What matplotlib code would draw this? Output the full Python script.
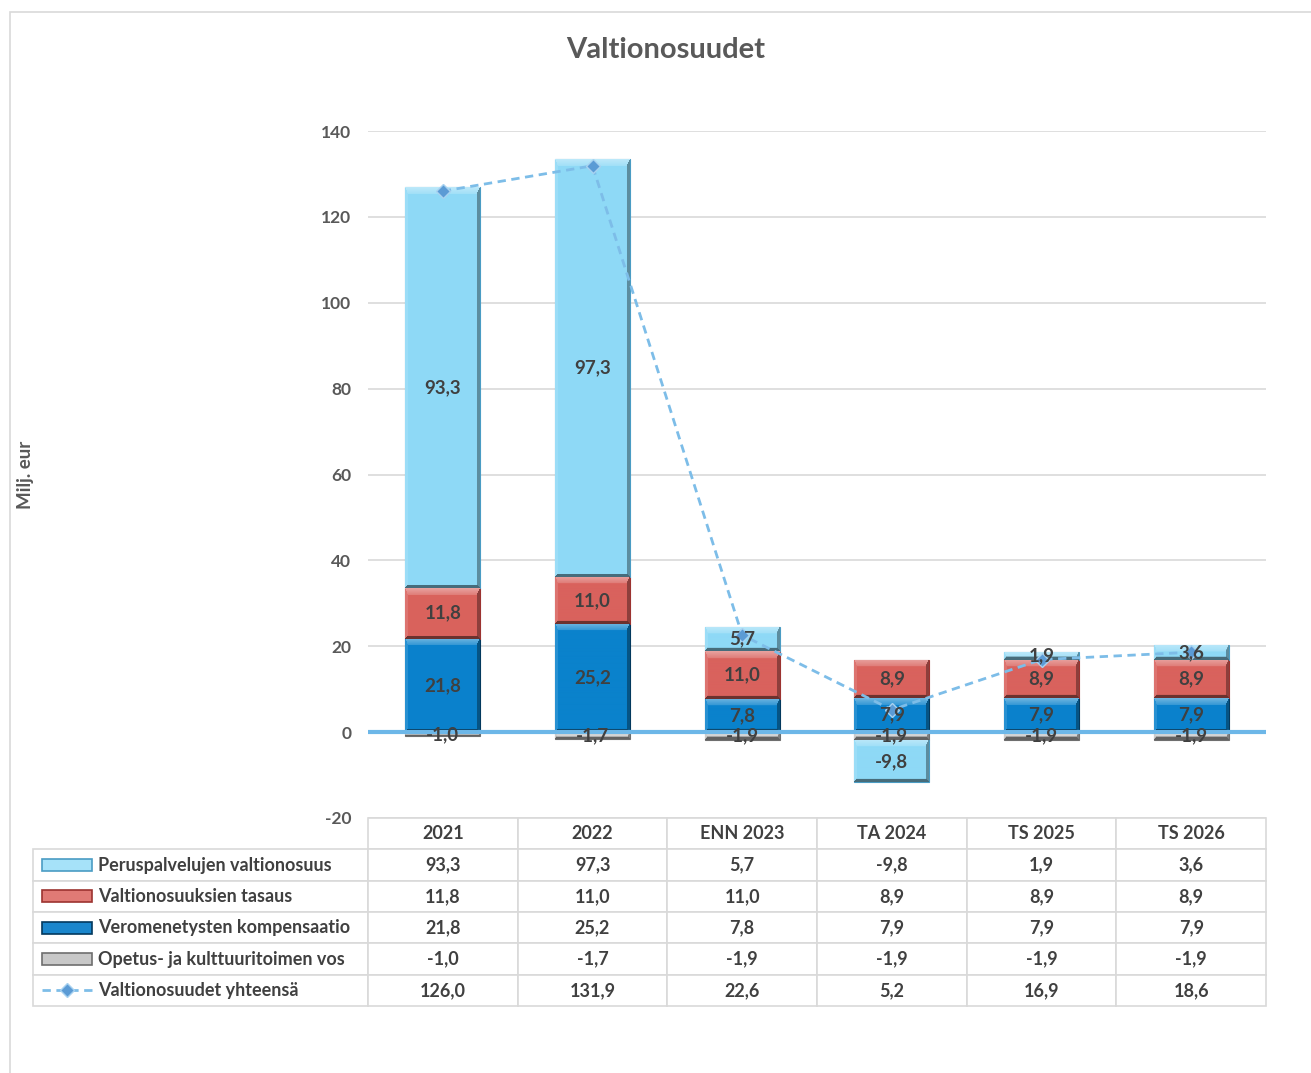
import matplotlib
matplotlib.use('Agg')
import matplotlib.pyplot as plt
import matplotlib.colors as mcolors
from matplotlib.table import Table
from matplotlib.patches import Rectangle
from matplotlib.lines import Line2D
import numpy as np

categories = ['2021', '2022', 'ENN 2023', 'TA 2024', 'TS 2025', 'TS 2026']
peruspalvelut = [93.3, 97.3, 5.7, -9.8, 1.9, 3.6]
tasaus = [11.8, 11.0, 11.0, 8.9, 8.9, 8.9]
vero = [21.8, 25.2, 7.8, 7.9, 7.9, 7.9]
opetus = [-1.0, -1.7, -1.9, -1.9, -1.9, -1.9]
yhteensa = [126.0, 131.9, 22.6, 5.2, 16.9, 18.6]
series_names = ['Peruspalvelujen valtionosuus', 'Valtionosuuksien tasaus',
                'Veromenetysten kompensaatio', 'Opetus- ja kulttuuritoimen vos',
                'Valtionosuudet yhteensä']
yticks = [-20, 0, 20, 40, 60, 80, 100, 120, 140]

plt.rcParams['font.family'] = ['Lato', 'DejaVu Sans']
TXT = '#404040'
GRAY = '#595959'

W, H = 1311, 1073
fig = plt.figure(figsize=(W / 100, H / 100), dpi=100)

# outer frame
fig.patches.append(Rectangle((10 / W, -0.1), 1.2, 1 - 12 / H + 0.1, transform=fig.transFigure,
                             facecolor='none', edgecolor='#D9D9D9', lw=1.2))

ax = fig.add_axes([368 / W, 1 - 818 / H, 898 / W, 687 / H])
x = np.arange(len(categories))
XLIM = (-0.5, len(categories) - 0.5)
YLIM = (-20, 140)
ax.set_xlim(*XLIM)
ax.set_ylim(*YLIM)
ax.set_yticks(yticks)
ax.set_yticklabels([str(t) for t in yticks], fontsize=12.5, fontweight='bold', color=GRAY)
ax.tick_params(axis='y', length=0, pad=12)
ax.set_xticks([])
for s in ax.spines.values():
    s.set_visible(False)
ax.grid(axis='y', color='#D9D9D9', lw=1.2, zorder=0)
ax.set_axisbelow(True)


def mix(c, other, t):
    return (1 - t) * c + t * other


def bevel(rect, face):
    """Paint an Excel-like bevel over a bar patch."""
    base = np.array(mcolors.to_rgb(face))
    x0, w = rect.get_x(), rect.get_width()
    y0, h = rect.get_y(), rect.get_height()
    ylo, yhi = min(y0, y0 + h), max(y0, y0 + h)
    p0 = ax.transData.transform((x0, ylo))
    p1 = ax.transData.transform((x0 + w, yhi))
    pw = max(int(round(p1[0] - p0[0])), 2)
    ph = max(int(round(p1[1] - p0[1])), 2)
    rows = np.arange(ph)[:, None] * np.ones((1, pw))
    cols = np.ones((ph, 1)) * np.arange(pw)[None, :]
    d = np.stack([rows, ph - 1 - rows, cols, pw - 1 - cols])  # top, bottom, left, right
    bw = np.array([7, 3, 2.5, 3])[:, None, None]
    which = np.argmin(d / bw, axis=0)
    frac = np.min(d / bw, axis=0)
    inside = frac < 1
    white, black = np.ones(3), np.zeros(3)
    img = np.ones((ph, pw, 3)) * base
    for k in range(4):
        m = inside & (which == k)
        t = 1 - frac[m][:, None]
        if k == 0:
            img[m] = mix(base, white, 0.15 + 0.25 * t)
        elif k == 1:
            img[m] = mix(base, black, 0.5)
        elif k == 2:
            img[m] = mix(base, white, 0.12)
        else:
            img[m] = mix(base, black, 0.35)
    im = ax.imshow(img, extent=(x0, x0 + w, ylo, yhi), aspect='auto', origin='upper',
                   interpolation='bilinear', zorder=2.1)
    im.set_clip_path(rect)


styles = [
    (opetus, '#C4C4C4', '#6E6E6E'),
    (vero, '#0A82CC', '#03395E'),
    (tasaus, '#D9625D', '#9C3330'),
    (peruspalvelut, '#8ED9F6', '#4A9CC4'),
]
pos = np.zeros(len(categories))
neg = np.zeros(len(categories))
for vals, face, edge in styles:
    v = np.array(vals)
    bottoms = np.where(v >= 0, pos, neg)
    bars = ax.bar(x, v, bottom=bottoms, width=0.5, color=face, edgecolor=edge, lw=0.8, zorder=2)
    for rect in bars:
        bevel(rect, face)
    for xi, b, vi in zip(x, bottoms, v):
        ax.text(xi, b + vi / 2, f'{vi:.1f}'.replace('.', ','), ha='center', va='center',
                fontsize=13.5, fontweight='bold', color=TXT, zorder=6)
    pos = pos + np.where(v >= 0, v, 0)
    neg = neg + np.where(v < 0, v, 0)
ax.set_xlim(*XLIM)
ax.set_ylim(*YLIM)

ax.axhline(0, color='#6DB7E8', lw=3, zorder=3)
ax.plot(x, yhteensa, ls=(0, (3, 2)), color='#7DBDE8', lw=2, marker='D', ms=7,
        markerfacecolor='#5B9BD5', markeredgecolor='#A8D2F0', zorder=5)

# data table
nrows = len(series_names)
lab_w = 335 / 898
col_w = 1 / len(categories)
row_h = 188 / 687 / (nrows + 1)
tab = Table(ax, bbox=[0, -(nrows + 1) * row_h, 1, (nrows + 1) * row_h])
for j, c in enumerate(categories):
    tab.add_cell(0, j, width=col_w, height=row_h, text=c, loc='center')
series_vals = [peruspalvelut, tasaus, vero, opetus, yhteensa]
for i, (name, vals) in enumerate(zip(series_names, series_vals)):
    cell = tab.add_cell(i + 1, -1, width=lab_w, height=row_h, text=name, loc='left')
    cell.PAD = 65 / 335
    for j, v in enumerate(vals):
        tab.add_cell(i + 1, j, width=col_w, height=row_h,
                     text=f'{v:.1f}'.replace('.', ','), loc='center')
tab.auto_set_font_size(False)
tab.set_fontsize(13)
for key, cell in tab.get_celld().items():
    cell.set_edgecolor('#D9D9D9')
    cell.set_linewidth(1.2)
    cell.get_text().set_color(TXT)
    cell.get_text().set_fontweight('bold')
tab.set_clip_on(False)
ax.add_table(tab)

# legend keys inside the row label cells
sw_x0 = (42 - 368) / 898
sw_w = 50 / 898
key_styles = [('#A6E2F9', '#4A9CC4'), ('#E07A75', '#9C3330'),
              ('#1A86CC', '#03395E'), ('#C8C8C8', '#6E6E6E')]
for i in range(nrows):
    yc = -(i + 1.5) * row_h
    if i < 4:
        face, edge = key_styles[i]
        ax.add_patch(Rectangle((sw_x0, yc - 0.0085), sw_w, 0.017, transform=ax.transAxes,
                               facecolor=face, edgecolor=edge, lw=1.2, clip_on=False, zorder=6))
    else:
        ax.add_line(Line2D([sw_x0, sw_x0 + sw_w], [yc, yc], transform=ax.transAxes,
                           ls=(0, (3, 2)), color='#7DBDE8', lw=2, clip_on=False, zorder=6))
        ax.add_line(Line2D([sw_x0 + sw_w / 2], [yc], transform=ax.transAxes, marker='D', ms=7,
                           markerfacecolor='#5B9BD5', markeredgecolor='#A8D2F0',
                           clip_on=False, zorder=7))

fig.text(666 / W, 1 - 50 / H, 'Valtionosuudet', ha='center', va='center',
         fontsize=21, fontweight='bold', color=GRAY)
fig.text(25 / W, 1 - 475 / H, 'Milj. eur', ha='center', va='center', rotation=90,
         fontsize=13.5, fontweight='bold', color=GRAY)

fig.savefig('out.png', dpi=100)
